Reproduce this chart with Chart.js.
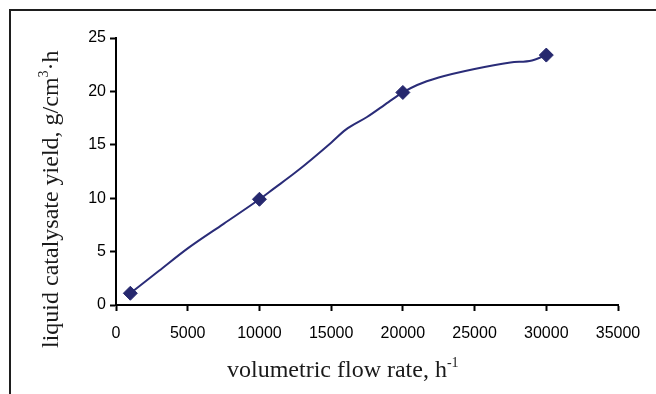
<!DOCTYPE html>
<html>
<head>
<meta charset="utf-8">
<script src="https://cdn.jsdelivr.net/npm/chart.js@4/dist/chart.umd.min.js"></script>
<style>
  html, body { margin: 0; padding: 0; background: #fff; }
  #wrap { position: relative; width: 656px; height: 394px; overflow: hidden; }
  #frame { position: absolute; left: 9px; top: 9px; width: 700px; height: 500px;
           border-left: 2px solid #1e1e1e; border-top: 2px solid #1e1e1e; }
  canvas { position: absolute; left: 0; top: 0; }
</style>
</head>
<body>
<div id="wrap">
  <div id="frame"></div>
  <canvas id="chart" width="656" height="394"></canvas>
</div>
<script>
// measured points (diamonds)
const flowRate = [1000, 10000, 20000, 30000];
const yieldValues = [1.1, 9.9, 19.9, 23.4];

// smoothed curve
const curveRate = [1000, 3000, 5000, 7500, 10000, 11000, 12500, 15000, 16000, 17500, 19000, 20000, 21000, 22500, 25000, 27500, 29000, 30000];
const curveYield = [1.1, 3.2, 5.3, 7.6, 9.9, 10.9, 12.4, 15.2, 16.4, 17.6, 19.0, 19.9, 20.6, 21.3, 22.1, 22.7, 22.9, 23.4];

// axis ticks
const xTicks = [0, 5000, 10000, 15000, 20000, 25000, 30000, 35000];
const yTicks = [0, 5, 10, 15, 20, 25];

const xTitle = [{ text: "volumetric flow rate, h" }, { text: "-1", sup: true }];
const yTitle = [{ text: "liquid catalysate yield, g/cm" }, { text: "3", sup: true }, { text: "\u00b7h" }];

var lineColor = "#2a2c78";
var serif = '"Liberation Serif", "Times New Roman", serif';

function drawRich(ctx, parts, x, y) {
  parts.forEach(function (p) {
    ctx.font = (p.sup ? "14px " : "24px ") + serif;
    ctx.fillText(p.text, x, p.sup ? y - 10 : y);
    x += ctx.measureText(p.text).width;
  });
}

// axis titles with superscripts
var axisTitles = {
  id: "axisTitles",
  afterDraw: function (chart) {
    var ctx = chart.ctx;
    ctx.save();
    ctx.fillStyle = "#1a1a1a";
    ctx.textBaseline = "alphabetic";
    ctx.textAlign = "left";
    drawRich(ctx, xTitle, 227, 377);
    ctx.translate(58, 348);
    ctx.rotate(-Math.PI / 2);
    drawRich(ctx, yTitle, 0, 0);
    ctx.restore();
  }
};

var ctx = document.getElementById("chart").getContext("2d");
var myChart = new Chart(ctx, {
  type: "scatter",
  data: {
    datasets: [
      {
        label: "curve",
        data: curveRate.map(function (x, i) { return { x: x, y: curveYield[i] }; }),
        showLine: true,
        borderColor: lineColor,
        borderWidth: 2,
        cubicInterpolationMode: "monotone",
        pointRadius: 0,
        order: 2,
      },
      {
        label: "yield",
        data: flowRate.map(function (x, i) { return { x: x, y: yieldValues[i] }; }),
        showLine: false,
        pointStyle: "rectRot",
        pointRadius: 7,
        backgroundColor: "#26286e",
        borderColor: "#26286e",
        borderWidth: 1,
        order: 1,
      },
    ],
  },
  options: {
    responsive: false,
    animation: false,
    layout: { padding: { left: 0, top: 38, right: 38, bottom: 0 } },
    plugins: { legend: { display: false }, tooltip: { enabled: false } },
    scales: {
      x: {
        type: "linear",
        min: 0,
        max: 35000,
        afterBuildTicks: function (axis) { axis.ticks = xTicks.map(function (v) { return { value: v }; }); },
        afterFit: function (axis) { axis.height = 89; },
        grid: { drawOnChartArea: false, tickLength: 6, tickColor: "#000", tickWidth: 2 },
        border: { color: "#000", width: 2 },
        ticks: {
          color: "#000",
          padding: 13,
          maxRotation: 0,
          font: { family: '"Liberation Sans", Arial, sans-serif', size: 16 },
          callback: function (v) { return String(v); },
        },
      },
      y: {
        min: 0,
        max: 25,
        afterBuildTicks: function (axis) { axis.ticks = yTicks.map(function (v) { return { value: v }; }); },
        afterFit: function (axis) { axis.width = 116; },
        grid: { drawOnChartArea: false, tickLength: 6, tickColor: "#000", tickWidth: 2 },
        border: { color: "#000", width: 2 },
        ticks: {
          color: "#000",
          padding: 4,
          font: { family: '"Liberation Sans", Arial, sans-serif', size: 16 },
        },
      },
    },
  },
  plugins: [axisTitles],
});
</script>
</body>
</html>
